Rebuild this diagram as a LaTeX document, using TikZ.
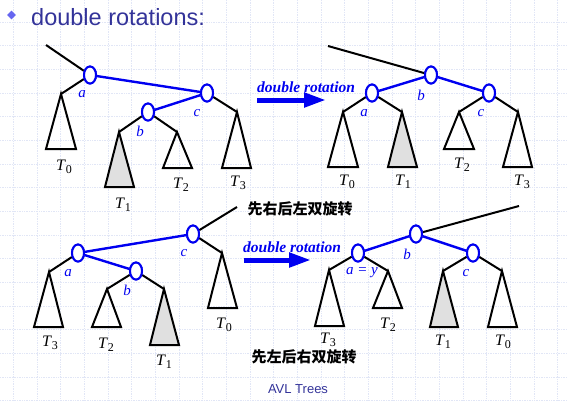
\documentclass[tikz,border=0pt]{standalone}
\usepackage{fontspec}
\setmainfont{Liberation Serif}
\newfontfamily\sansfont{Liberation Sans}
\newfontfamily\cjkfont{Noto Sans CJK SC}
\usetikzlibrary{
    shapes.geometric,
    arrows.meta,
    positioning
}
\definecolor{Cblue}{RGB}{0, 0, 240}
\definecolor{Ctitle}{RGB}{51, 51, 153}
\definecolor{Cbullet}{RGB}{102, 102, 240}
\definecolor{Cgrid}{RGB}{225, 230, 246}
\definecolor{Cshade}{RGB}{224, 224, 224}
\tikzset{
    vnode/.style={
        ellipse, draw=Cblue, line width=2pt, fill=white,
        minimum width=12pt, minimum height=17pt, inner sep=0pt
    },
    vlbl/.style={text=Cblue, font=\fontsize{15}{15}\selectfont\itshape, inner sep=0pt},
    tlbl/.style={font=\fontsize{16}{16}\selectfont, inner sep=0pt},
    vlink/.style={Cblue, line width=2.4pt},
    vedge/.style={black, line width=2pt},
    vtri/.style={draw=black, line width=2pt, line join=miter},
    vtrig/.style={vtri, fill=Cshade},
    varr/.style={-{Triangle[length=22pt, width=14pt]}, line width=5pt, Cblue},
    vrot/.style={text=Cblue, font=\fontsize{15.5}{15.5}\selectfont\bfseries\itshape,
        inner sep=0pt, anchor=base west},
    vcjk/.style={font=\fontsize{15}{15}\selectfont\cjkfont\bfseries, inner sep=0pt},
}
\newcommand{\Tsub}[1]{\textit{T}\raisebox{-0.45ex}{\fontsize{12}{12}\selectfont #1}}

\begin{document}
\begin{tikzpicture}[x=1pt, y=-1pt]

    \useasboundingbox (0,0) rectangle (568,400);

    % ── background grid ─────────────────────────────────
    \foreach \gy in {0,...,16}
        \draw [Cgrid, densely dotted, line width=0.7pt] (0,{22+23.67*\gy}) -- (568,{22+23.67*\gy});
    \foreach \gx in {0,...,23}
        \draw [Cgrid, densely dotted, line width=0.7pt] ({13.3+23.67*\gx},0) -- ({13.3+23.67*\gx},400);

    % ── title ───────────────────────────────────────────
    \node [diamond, fill=Cbullet, minimum width=9pt, minimum height=9pt, inner sep=0pt]
        (bullet) at (11.5,15) {};
    \node [font=\sansfont\fontsize{23.5}{28}\selectfont, text=Ctitle, anchor=base west, inner sep=0pt]
        (title) at (31,25) {double rotations:};

    % ── tree 1: before ──────────────────────────────────
    \coordinate (in1) at (46,45);
    \coordinate (p1t0) at (61,94);
    \coordinate (p1t1) at (119,132);
    \coordinate (p1t2) at (177,132);
    \coordinate (p1t3) at (237,112);
    \node [vnode] (a1) at (90,75) {};
    \node [vnode] (c1) at (207,93) {};
    \node [vnode] (b1) at (148,112) {};

    \draw [vedge] (in1) -- (a1);
    \draw [vedge] (a1) -- (p1t0);
    \draw [vedge] (b1) -- (p1t1);
    \draw [vedge] (b1) -- (p1t2);
    \draw [vedge] (c1) -- (p1t3);
    \draw [vlink] (a1) -- (c1);
    \draw [vlink] (c1) -- (b1);
    \draw [vtri]  (p1t0) -- ++(-15,55) -- ++(30,0) -- cycle;
    \draw [vtrig] (p1t1) -- ++(-14,55) -- ++(29,0) -- cycle;
    \draw [vtri]  (p1t2) -- ++(-14,36) -- ++(29,0) -- cycle;
    \draw [vtri]  (p1t3) -- ++(-15,56) -- ++(29,0) -- cycle;
    \node [vnode] at (a1) {};
    \node [vnode] at (c1) {};
    \node [vnode] at (b1) {};

    \node [vlbl] (la1) at (82,94) {a};
    \node [vlbl] (lb1) at (140,131) {b};
    \node [vlbl] (lc1) at (197,113) {c};
    \node [tlbl] (T01) at (64,167) {\Tsub{0}};
    \node [tlbl] (T11) at (123,205) {\Tsub{1}};
    \node [tlbl] (T21) at (181,185) {\Tsub{2}};
    \node [tlbl] (T31) at (238,183) {\Tsub{3}};

    % ── arrow 1 ─────────────────────────────────────────
    \coordinate (r1s) at (257,100);
    \coordinate (r1e) at (326,100);
    \draw [varr] (r1s) -- (r1e);
    \node [vrot] (rot1) at (257,92) {double rotation};

    % ── tree 2: after ───────────────────────────────────
    \coordinate (in2) at (328,46);
    \coordinate (p2t0) at (343,112);
    \coordinate (p2t1) at (402,112);
    \coordinate (p2t2) at (459,112);
    \coordinate (p2t3) at (518,112);
    \node [vnode] (b2) at (431,75) {};
    \node [vnode] (a2) at (372,93) {};
    \node [vnode] (c2) at (489,93) {};

    \draw [vedge] (in2) -- (b2);
    \draw [vedge] (a2) -- (p2t0);
    \draw [vedge] (a2) -- (p2t1);
    \draw [vedge] (c2) -- (p2t2);
    \draw [vedge] (c2) -- (p2t3);
    \draw [vlink] (b2) -- (a2);
    \draw [vlink] (b2) -- (c2);
    \draw [vtri]  (p2t0) -- ++(-15,55) -- ++(30,0) -- cycle;
    \draw [vtrig] (p2t1) -- ++(-14,55) -- ++(29,0) -- cycle;
    \draw [vtri]  (p2t2) -- ++(-15,37) -- ++(30,0) -- cycle;
    \draw [vtri]  (p2t3) -- ++(-15,55) -- ++(29,0) -- cycle;
    \node [vnode] at (b2) {};
    \node [vnode] at (a2) {};
    \node [vnode] at (c2) {};

    \node [vlbl] (lb2) at (421,95) {b};
    \node [vlbl] (la2) at (364,113) {a};
    \node [vlbl] (lc2) at (481,113) {c};
    \node [tlbl] (T02) at (347,182) {\Tsub{0}};
    \node [tlbl] (T12) at (403,182) {\Tsub{1}};
    \node [tlbl] (T22) at (462,165) {\Tsub{2}};
    \node [tlbl] (T32) at (522,182) {\Tsub{3}};

    \node [vcjk] (rl) at (300,209) {先右后左双旋转};

    % ── tree 3: before ──────────────────────────────────
    \coordinate (in3) at (237,207);
    \coordinate (p3t3) at (49,272);
    \coordinate (p3t2) at (107,289);
    \coordinate (p3t1) at (164,289);
    \coordinate (p3t0) at (222,253);
    \node [vnode] (c3) at (193,234) {};
    \node [vnode] (a3) at (78,253) {};
    \node [vnode] (b3) at (136,271) {};

    \draw [vedge] (in3) -- (c3);
    \draw [vedge] (a3) -- (p3t3);
    \draw [vedge] (b3) -- (p3t2);
    \draw [vedge] (b3) -- (p3t1);
    \draw [vedge] (c3) -- (p3t0);
    \draw [vlink] (c3) -- (a3);
    \draw [vlink] (a3) -- (b3);
    \draw [vtri]  (p3t3) -- ++(-15,55) -- ++(29,0) -- cycle;
    \draw [vtri]  (p3t2) -- ++(-15,38) -- ++(29,0) -- cycle;
    \draw [vtrig] (p3t1) -- ++(-14,56) -- ++(29,0) -- cycle;
    \draw [vtri]  (p3t0) -- ++(-14,55) -- ++(29,0) -- cycle;
    \node [vnode] at (c3) {};
    \node [vnode] at (a3) {};
    \node [vnode] at (b3) {};

    \node [vlbl] (la3) at (68,273) {a};
    \node [vlbl] (lb3) at (127,290) {b};
    \node [vlbl] (lc3) at (184,253) {c};
    \node [tlbl] (T33) at (50,343) {\Tsub{3}};
    \node [tlbl] (T23) at (106,345) {\Tsub{2}};
    \node [tlbl] (T13) at (164,362) {\Tsub{1}};
    \node [tlbl] (T03) at (224,325) {\Tsub{0}};

    % ── arrow 2 ─────────────────────────────────────────
    \coordinate (r2s) at (244,260);
    \coordinate (r2e) at (311,260);
    \draw [varr] (r2s) -- (r2e);
    \node [vrot] (rot2) at (243,252) {double rotation};

    % ── tree 4: after ───────────────────────────────────
    \coordinate (in4) at (519,206);
    \coordinate (p4t3) at (329,270);
    \coordinate (p4t2) at (388,271);
    \coordinate (p4t1) at (443,271);
    \coordinate (p4t0) at (502,271);
    \node [vnode] (b4) at (416,234) {};
    \node [vnode] (a4) at (358,253) {};
    \node [vnode] (c4) at (473,253) {};

    \draw [vedge] (in4) -- (b4);
    \draw [vedge] (a4) -- (p4t3);
    \draw [vedge] (a4) -- (p4t2);
    \draw [vedge] (c4) -- (p4t1);
    \draw [vedge] (c4) -- (p4t0);
    \draw [vlink] (b4) -- (a4);
    \draw [vlink] (b4) -- (c4);
    \draw [vtri]  (p4t3) -- ++(-14,56) -- ++(29,0) -- cycle;
    \draw [vtri]  (p4t2) -- ++(-15,37) -- ++(29,0) -- cycle;
    \draw [vtrig] (p4t1) -- ++(-13,56) -- ++(28,0) -- cycle;
    \draw [vtri]  (p4t0) -- ++(-14,56) -- ++(29,0) -- cycle;
    \node [vnode] at (b4) {};
    \node [vnode] at (a4) {};
    \node [vnode] at (c4) {};

    \node [vlbl] (lb4) at (407,254) {b};
    \node [vlbl] (la4) at (362,273) {a = y};
    \node [vlbl] (lc4) at (466,273) {c};
    \node [tlbl] (T34) at (328,340) {\Tsub{3}};
    \node [tlbl] (T24) at (388,325) {\Tsub{2}};
    \node [tlbl] (T14) at (443,342) {\Tsub{1}};
    \node [tlbl] (T04) at (503,342) {\Tsub{0}};

    \node [vcjk] (lr) at (304,357) {先左后右双旋转};

    % ── footer ──────────────────────────────────────────
    \node [font=\sansfont\fontsize{13}{13}\selectfont, text=Ctitle, anchor=base, inner sep=0pt]
        (foot) at (298,393) {AVL Trees};

\end{tikzpicture}
\end{document}
